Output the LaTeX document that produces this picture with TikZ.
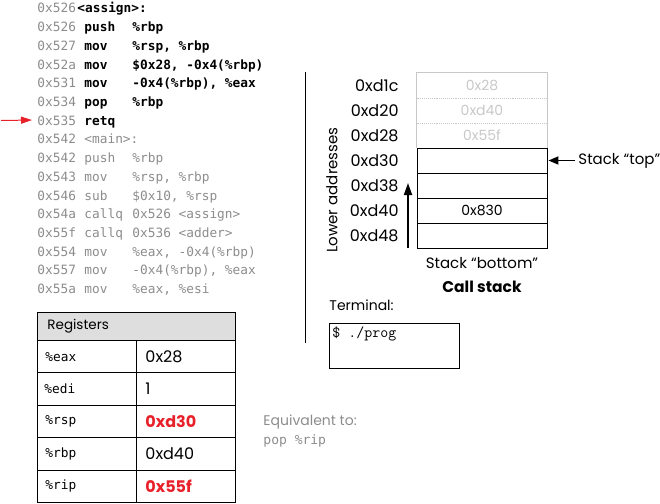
\documentclass[tikz,border=0pt]{standalone}
\usepackage{fontspec}
\setmainfont{Poppins}
\newfontfamily\codefont{DejaVu Sans Mono}
\usetikzlibrary{arrows.meta}
\definecolor{addr}{RGB}{140,140,140}
\definecolor{hl}{RGB}{232,32,42}
\definecolor{ghost}{RGB}{200,200,200}
\definecolor{hdr}{RGB}{222,222,222}
\begin{document}
\begin{tikzpicture}[x=1pt,y=-1pt,line width=0.9pt,
  code/.style={font=\codefont\fontsize{12.8}{14}\selectfont, anchor=base west, inner sep=0pt},
  addrc/.style={code, text=addr},
  hot/.style={code, font=\codefont\bfseries\fontsize{12.8}{14}\selectfont},
  cold/.style={code, text=addr},
  lab/.style={font=\fontsize{15}{17}\selectfont, inner sep=0pt},
  slab/.style={font=\fontsize{16}{18}\selectfont, inner sep=0pt, anchor=east},
  cell/.style={minimum width=130pt, minimum height=25pt, inner sep=0pt, font=\fontsize{14}{16}\selectfont},
  gcell/.style={cell, text=ghost},
  bcell/.style={cell, draw=black},
  rname/.style={minimum width=99pt, minimum height=32.4pt, draw, inner sep=0pt},
  rtxt/.style={anchor=west, inner sep=0pt},
  rcode/.style={rtxt, font=\codefont\fontsize{12.8}{14}\selectfont},
  rval/.style={rtxt, font=\fontsize{16}{18}\selectfont},
  rhot/.style={rtxt, font=\bfseries\fontsize{16}{18}\selectfont, text=hl},
]
\useasboundingbox (0,0) rectangle (660,503);

% ---- code listing ----
\node[addrc] (a0) at (37,13) {0x526};
\node[hot] (h0) at (77,13) {<assign>:};
\node[addrc] (a1) at (37,31.7) {0x526};
\node[hot] (m1) at (84,31.7) {push};
\node[hot] (o1) at (132,31.7) {\%rbp};
\node[addrc] (a2) at (37,50.4) {0x527};
\node[hot] (m2) at (84,50.4) {mov};
\node[hot] (o2) at (132,50.4) {\%rsp, \%rbp};
\node[addrc] (a3) at (37,69.1) {0x52a};
\node[hot] (m3) at (84,69.1) {mov};
\node[hot] (o3) at (132,69.1) {\$0x28, -0x4(\%rbp)};
\node[addrc] (a4) at (37,87.8) {0x531};
\node[hot] (m4) at (84,87.8) {mov};
\node[hot] (o4) at (132,87.8) {-0x4(\%rbp), \%eax};
\node[addrc] (a5) at (37,106.5) {0x534};
\node[hot] (m5) at (84,106.5) {pop};
\node[hot] (o5) at (132,106.5) {\%rbp};
\node[addrc] (a6) at (37,125.2) {0x535};
\node[hot] (m6) at (84,125.2) {retq};
\node[cold] (a7) at (37,143.9) {0x542};
\node[cold] (m7) at (84,143.9) {<main>:};
\node[cold] (a8) at (37,162.6) {0x542};
\node[cold] (m8) at (84,162.6) {push};
\node[cold] (o8) at (132,162.6) {\%rbp};
\node[cold] (a9) at (37,181.3) {0x543};
\node[cold] (m9) at (84,181.3) {mov};
\node[cold] (o9) at (132,181.3) {\%rsp, \%rbp};
\node[cold] (a10) at (37,200) {0x546};
\node[cold] (m10) at (84,200) {sub};
\node[cold] (o10) at (132,200) {\$0x10, \%rsp};
\node[cold] (a11) at (37,218.7) {0x54a};
\node[cold] (m11) at (84,218.7) {callq};
\node[cold] (o11) at (132,218.7) {0x526 <assign>};
\node[cold] (a12) at (37,237.4) {0x55f};
\node[cold] (m12) at (84,237.4) {callq};
\node[cold] (o12) at (132,237.4) {0x536 <adder>};
\node[cold] (a13) at (37,256.1) {0x554};
\node[cold] (m13) at (84,256.1) {mov};
\node[cold] (o13) at (132,256.1) {\%eax, -0x4(\%rbp)};
\node[cold] (a14) at (37,274.8) {0x557};
\node[cold] (m14) at (84,274.8) {mov};
\node[cold] (o14) at (132,274.8) {-0x4(\%rbp), \%eax};
\node[cold] (a15) at (37,293.5) {0x55a};
\node[cold] (m15) at (84,293.5) {mov};
\node[cold] (o15) at (132,293.5) {\%eax, \%esi};

\coordinate (pc) at (1,120.5);
\draw[hl, line width=1pt, -{Triangle[length=11pt,width=7pt]}] (pc) -- ([xshift=-5pt,yshift=0.5pt]a6.west);

% ---- divider ----
\coordinate (dv1) at (305,72);
\coordinate (dv2) at (305,343);
\draw[line width=1pt] (dv1) -- (dv2);

% ---- stack ----
\node[gcell] (s1) at (482,85.5) {0x28};
\node[gcell] (s2) at (482,110.5) {0xd40};
\node[gcell] (s3) at (482,135.5) {0x55f};
\draw[ghost] (s1.south west) |- (s1.north east) -- (s3.south east);
\draw[ghost, densely dotted] (s1.south west) -- (s1.south east);
\draw[ghost, densely dotted] (s2.south west) -- (s2.south east);
\draw[ghost] (s1.south west) -- (s3.south west);
\node[bcell] (s4) at (482,160.5) {};
\node[bcell] (s5) at (482,185.5) {};
\node[bcell] (s6) at (482,210.5) {0x830};
\node[bcell] (s7) at (482,235.5) {};

\node[slab] (l1) at (399,86) {0xd1c};
\node[slab] (l2) at (399,111) {0xd20};
\node[slab] (l3) at (399,136) {0xd28};
\node[slab] (l4) at (399,161) {0xd30};
\node[slab] (l5) at (399,186) {0xd38};
\node[slab] (l6) at (399,211) {0xd40};
\node[slab] (l7) at (399,236) {0xd48};

\node[lab, rotate=90] (lower) at (332,190) {Lower addresses};
\coordinate (up1) at (408,248);
\coordinate (up2) at (408,183);
\draw[line width=1.8pt, -{Triangle[length=12pt,width=8pt]}] (up1) -- (up2);

\node[lab, anchor=west] (top) at (578,160.5) {Stack “top”};
\draw[line width=1.8pt, -{Triangle[length=10pt,width=8pt]}] (top.west) ++(-3pt,0) coordinate (tp) -- ([xshift=1pt]s4.east);
\node[lab] (bottom) at (482,263) {Stack “bottom”};
\node[lab, font=\bfseries\fontsize{15.5}{17}\selectfont] (cs) at (482,287) {Call stack};

% ---- terminal ----
\node[lab, anchor=west, font=\fontsize{14}{16}\selectfont] (term) at (329,305) {Terminal:};
\node[draw, minimum width=130pt, minimum height=45pt, anchor=north west, inner sep=0pt] (tbox) at (329,323) {};
\node[anchor=north west, inner sep=0pt, font=\ttfamily\fontsize{15.5}{17}\selectfont] (prog) at ([xshift=3pt,yshift=-3pt]tbox.north west) {\$ ./prog};

% ---- registers ----
\node[draw, fill=hdr, minimum width=198pt, minimum height=28pt, anchor=north west, inner sep=0pt] (rh) at (37,312) {};
\node[lab, anchor=west, font=\fontsize{13.5}{15}\selectfont] (rht) at ([xshift=10pt]rh.west) {Registers};
\node[rname, anchor=north west] (r1) at (37,340) {};
\node[rname, anchor=north west] (v1) at (136,340) {};
\node[rname, anchor=north west] (r2) at (37,372.4) {};
\node[rname, anchor=north west] (v2) at (136,372.4) {};
\node[rname, anchor=north west] (r3) at (37,404.8) {};
\node[rname, anchor=north west] (v3) at (136,404.8) {};
\node[rname, anchor=north west] (r4) at (37,437.2) {};
\node[rname, anchor=north west] (v4) at (136,437.2) {};
\node[rname, anchor=north west] (r5) at (37,469.6) {};
\node[rname, anchor=north west] (v5) at (136,469.6) {};
\node[rcode] (rn1) at ([xshift=8pt]r1.west) {\%eax};
\node[rcode] (rn2) at ([xshift=7pt]r2.west) {\%edi};
\node[rcode] (rn3) at ([xshift=8pt]r3.west) {\%rsp};
\node[rcode] (rn4) at ([xshift=8pt]r4.west) {\%rbp};
\node[rcode] (rn5) at ([xshift=8pt]r5.west) {\%rip};
\node[rval] (rv1) at ([xshift=9pt]v1.west) {0x28};
\node[rval] (rv2) at ([xshift=9pt]v2.west) {1};
\node[rhot] (rv3) at ([xshift=9pt]v3.west) {0xd30};
\node[rval] (rv4) at ([xshift=9pt]v4.west) {0xd40};
\node[rhot] (rv5) at ([xshift=9pt]v5.west) {0x55f};

% ---- note ----
\node[lab, anchor=west, text=addr, font=\fontsize{14}{16}\selectfont] (eq) at (263,422) {Equivalent to:};
\node[anchor=west, inner sep=0pt, text=addr, font=\codefont\fontsize{13}{15}\selectfont] (eq2) at (263,441) {pop \%rip};
\end{tikzpicture}
\end{document}
